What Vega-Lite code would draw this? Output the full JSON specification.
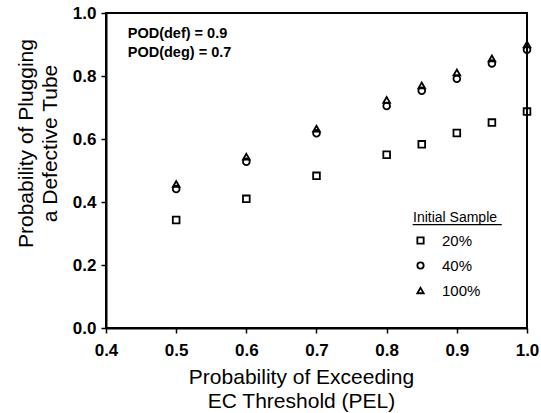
{
  "$schema": "https://vega.github.io/schema/vega-lite/v6.json",
  "width": 421,
  "height": 315,
  "autosize": "none",
  "padding": {"left": 106, "top": 13, "right": 14, "bottom": 85},
  "background": "white",
  "config": {
    "font": "Liberation Sans",
    "view": {"stroke": "black", "strokeWidth": 2},
    "axis": {"grid": false, "ticks": true, "domain": true, "domainColor": "black", "domainWidth": 2, "tickColor": "black", "tickWidth": 1.5, "labelColor": "black", "titleColor": "black", "labelFontSize": 17, "titleFontSize": 21, "titleFontWeight": "normal", "labelFontWeight": "bold", "titleLineHeight": 24}
  },
  "datasets": {
    "pts": [
      {"pel": 0.5, "sample": "20%", "pod": 0.343},
      {"pel": 0.6, "sample": "20%", "pod": 0.41},
      {"pel": 0.7, "sample": "20%", "pod": 0.483},
      {"pel": 0.8, "sample": "20%", "pod": 0.55},
      {"pel": 0.85, "sample": "20%", "pod": 0.583},
      {"pel": 0.9, "sample": "20%", "pod": 0.619},
      {"pel": 0.95, "sample": "20%", "pod": 0.652},
      {"pel": 1.0, "sample": "20%", "pod": 0.687},
      {"pel": 0.5, "sample": "40%", "pod": 0.441},
      {"pel": 0.6, "sample": "40%", "pod": 0.528},
      {"pel": 0.7, "sample": "40%", "pod": 0.618},
      {"pel": 0.8, "sample": "40%", "pod": 0.705},
      {"pel": 0.85, "sample": "40%", "pod": 0.753},
      {"pel": 0.9, "sample": "40%", "pod": 0.791},
      {"pel": 0.95, "sample": "40%", "pod": 0.84},
      {"pel": 1.0, "sample": "40%", "pod": 0.883},
      {"pel": 0.5, "sample": "100%", "pod": 0.457},
      {"pel": 0.6, "sample": "100%", "pod": 0.544},
      {"pel": 0.7, "sample": "100%", "pod": 0.633},
      {"pel": 0.8, "sample": "100%", "pod": 0.724},
      {"pel": 0.85, "sample": "100%", "pod": 0.77},
      {"pel": 0.9, "sample": "100%", "pod": 0.811},
      {"pel": 0.95, "sample": "100%", "pod": 0.856},
      {"pel": 1.0, "sample": "100%", "pod": 0.9}
    ],
    "notes": [
      {"x": 0.431, "y": 0.933, "label": "POD(def) = 0.9"},
      {"x": 0.431, "y": 0.873, "label": "POD(deg) = 0.7"}
    ],
    "underline": [
      {"x": 0.837, "x2": 0.964, "y": 0.328}
    ]
  },
  "layer": [
    {
      "data": {"name": "pts"},
      "mark": {"type": "point", "filled": false, "strokeWidth": 1.8, "color": "black", "opacity": 1, "clip": false, "size": 45},
      "encoding": {
        "x": {"field": "pel", "type": "quantitative",
          "scale": {"domain": [0.4, 1.0], "nice": false, "zero": false},
          "axis": {"values": [0.4,0.45,0.5,0.55,0.6,0.65,0.7,0.75,0.8,0.85,0.9,0.95,1.0],
            "labelExpr": "round(datum.value*100)%10==0 ? format(datum.value,'.1f') : ''",
            "tickSize": 5,
            "labelPadding": 9, "title": ["Probability of Exceeding", "EC Threshold (PEL)"], "titlePadding": 8, "titleX": 195, "labelFlush": false}},
        "y": {"field": "pod", "type": "quantitative",
          "scale": {"domain": [0, 1], "nice": false},
          "axis": {"values": [0,0.1,0.2,0.3,0.4,0.5,0.6,0.7,0.8,0.9,1.0],
            "labelExpr": "round(datum.value*10)%2==0 ? format(datum.value,'.1f') : ''",
            "tickSize": 5,
            "labelPadding": 5, "title": ["Probability of Plugging", "a Defective Tube"], "titlePadding": 12, "titleY": 130, "labelFlush": false}},
        "shape": {"field": "sample", "type": "nominal",
          "scale": {"domain": ["20%", "40%", "100%"], "range": ["square", "circle", "triangle-up"]},
          "legend": {"title": "Initial Sample", "orient": "none", "legendX": 307, "legendY": 198,
            "titleFontSize": 14, "titleFontWeight": "normal", "labelFontSize": 15, "titleColor": "black", "labelColor": "black",
            "symbolStrokeColor": "black", "symbolFillColor": "transparent", "symbolStrokeWidth": 1.8, "symbolSize": 40,
            "rowPadding": 9, "labelOffset": 14, "titlePadding": 8, "padding": 0}}
      }
    },
    {
      "data": {"name": "notes"},
      "mark": {"type": "text", "align": "left", "baseline": "middle", "fontSize": 14.5, "fontWeight": "bold", "color": "black"},
      "encoding": {
        "x": {"field": "x", "type": "quantitative"},
        "y": {"field": "y", "type": "quantitative"},
        "text": {"field": "label"}
      }
    },
    {
      "data": {"name": "underline"},
      "mark": {"type": "rule", "color": "black", "strokeWidth": 1.2},
      "encoding": {
        "x": {"field": "x", "type": "quantitative"},
        "x2": {"field": "x2"},
        "y": {"field": "y", "type": "quantitative"}
      }
    }
  ]
}
